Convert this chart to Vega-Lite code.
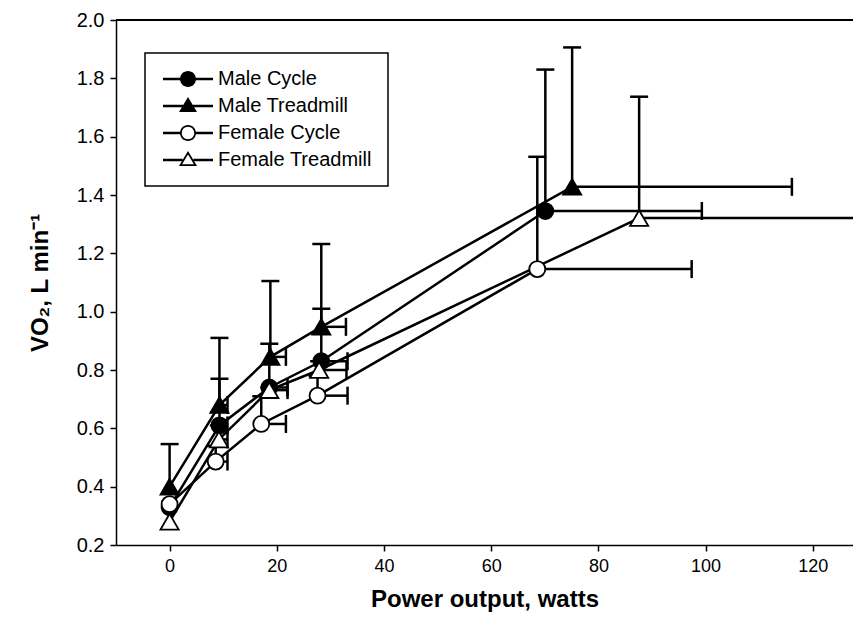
{
  "$schema": "https://vega.github.io/schema/vega-lite/v6.json",
  "width": 737,
  "height": 525,
  "autosize": {"type": "none"},
  "padding": {"left": 116, "top": 20, "right": 0, "bottom": 90},
  "background": "white",
  "config": {
    "font": "Liberation Sans",
    "view": {"stroke": null},
    "legend": {"strokeWidth": 1.5},
    "axis": {
      "grid": false,
      "domainColor": "black",
      "domainWidth": 1.5,
      "tickColor": "black",
      "tickWidth": 1.5,
      "tickSize": 6,
      "labelColor": "black",
      "labelFont": "Liberation Sans",
      "labelFontSize": 18,
      "titleColor": "black",
      "titleFont": "Liberation Sans",
      "titleFontWeight": "bold",
      "titleFontSize": 24
    }
  },
  "data": {
    "values": [
      {"series": "Male Cycle", "power": 0, "vo2": 0.33, "yhi": null, "xhi": null},
      {"series": "Male Cycle", "power": 9.3, "vo2": 0.61, "yhi": 0.77, "xhi": 10.8},
      {"series": "Male Cycle", "power": 18.6, "vo2": 0.74, "yhi": 0.89, "xhi": 22},
      {"series": "Male Cycle", "power": 28.3, "vo2": 0.83, "yhi": 1.01, "xhi": 33.2},
      {"series": "Male Cycle", "power": 70.1, "vo2": 1.345, "yhi": 1.83, "xhi": 99.3},
      {"series": "Male Treadmill", "power": 0, "vo2": 0.40, "yhi": 0.546, "xhi": null},
      {"series": "Male Treadmill", "power": 9.3, "vo2": 0.68, "yhi": 0.91, "xhi": 10.8},
      {"series": "Male Treadmill", "power": 18.8, "vo2": 0.845, "yhi": 1.105, "xhi": 21.7},
      {"series": "Male Treadmill", "power": 28.3, "vo2": 0.948, "yhi": 1.232, "xhi": 32.9},
      {"series": "Male Treadmill", "power": 75.1, "vo2": 1.428, "yhi": 1.906, "xhi": 116.1},
      {"series": "Female Cycle", "power": 0, "vo2": 0.34, "yhi": null, "xhi": null},
      {"series": "Female Cycle", "power": 8.6, "vo2": 0.486, "yhi": 0.54, "xhi": 10.8},
      {"series": "Female Cycle", "power": 17.1, "vo2": 0.615, "yhi": 0.71, "xhi": 21.7},
      {"series": "Female Cycle", "power": 27.6, "vo2": 0.712, "yhi": 0.78, "xhi": 33.2},
      {"series": "Female Cycle", "power": 68.6, "vo2": 1.146, "yhi": 1.531, "xhi": 97.4},
      {"series": "Female Treadmill", "power": 0, "vo2": 0.28, "yhi": null, "xhi": null},
      {"series": "Female Treadmill", "power": 9.2, "vo2": 0.562, "yhi": 0.61, "xhi": 10.8},
      {"series": "Female Treadmill", "power": 18.6, "vo2": 0.731, "yhi": 0.74, "xhi": 22},
      {"series": "Female Treadmill", "power": 27.9, "vo2": 0.80, "yhi": 0.83, "xhi": 33},
      {"series": "Female Treadmill", "power": 87.6, "vo2": 1.321, "yhi": 1.737, "xhi": 135}
    ]
  },
  "encoding": {
    "x": {
      "field": "power", "type": "quantitative",
      "scale": {"domain": [-10, 127.5], "nice": false, "zero": false},
      "axis": {"title": "Power output, watts", "values": [0, 20, 40, 60, 80, 100, 120], "labelPadding": 6, "titlePadding": 12}
    },
    "y": {
      "field": "vo2", "type": "quantitative",
      "scale": {"domain": [0.2, 2.0], "nice": false, "zero": false},
      "axis": {"title": "VO₂, L min⁻¹", "values": [0.2, 0.4, 0.6, 0.8, 1.0, 1.2, 1.4, 1.6, 1.8, 2.0], "format": ".1f", "labelPadding": 6, "labelFontSize": 20, "titlePadding": 24}
    }
  },
  "layer": [
    {
      "mark": {"type": "rule", "color": "black", "strokeWidth": 1.5},
      "encoding": {"x": null, "y": {"datum": 2.0, "type": "quantitative"}}
    },
    {
      "transform": [{"filter": "datum.yhi != null"}],
      "mark": {"type": "rule", "color": "black", "strokeWidth": 2.5},
      "encoding": {"y2": {"field": "yhi"}}
    },
    {
      "transform": [{"filter": "datum.yhi != null"}],
      "mark": {"type": "tick", "orient": "horizontal", "color": "black", "size": 18, "thickness": 2.5, "opacity": 1},
      "encoding": {"y": {"field": "yhi", "type": "quantitative"}}
    },
    {
      "transform": [{"filter": "datum.xhi != null"}],
      "mark": {"type": "rule", "color": "black", "strokeWidth": 2.5, "clip": true},
      "encoding": {"x2": {"field": "xhi"}}
    },
    {
      "transform": [{"filter": "datum.xhi != null && datum.xhi < 127.5"}],
      "mark": {"type": "tick", "orient": "vertical", "color": "black", "size": 18, "thickness": 2.5, "opacity": 1},
      "encoding": {"x": {"field": "xhi", "type": "quantitative"}}
    },
    {
      "mark": {"type": "line", "color": "black", "strokeWidth": 2.5},
      "encoding": {"detail": {"field": "series"}, "order": {"field": "power"}}
    },
    {
      "mark": {"type": "point", "stroke": "black", "strokeWidth": 1.8, "opacity": 1, "filled": false},
      "encoding": {
        "shape": {"condition": {"test": "indexof(datum.series, 'Cycle') >= 0", "value": "circle"}, "value": "triangle-up"},
        "size": {"condition": {"test": "indexof(datum.series, 'Cycle') >= 0", "value": 256}, "value": 330},
        "fill": {"condition": {"test": "indexof(datum.series, 'Male') == 0", "value": "black"}, "value": "white"}
      }
    },
    {
      "transform": [{"filter": "datum.power == 0"}],
      "mark": {"type": "point", "filled": true, "color": "black", "opacity": 0, "strokeWidth": 0},
      "encoding": {
        "shape": {
          "field": "series", "type": "nominal",
          "scale": {
            "domain": ["Male Cycle", "Male Treadmill", "Female Cycle", "Female Treadmill"],
            "range": [
              "M-1,-0.16H1.2V0.16H-1ZM3.05,-0.16H5.25V0.16H3.05ZM3.125,0A1,1 0 1,1 1.125,0A1,1 0 1,1 3.125,0Z",
              "M-1,-0.16H1.5V0.16H-1ZM2.75,-0.16H5.25V0.16H2.75ZM2.125,-1.125L3.25,0.75L1,0.75Z",
              "M-1,-0.16H1.15V0.16H-1ZM3.1,-0.16H5.25V0.16H3.1ZM3.125,0A1,1 0 1,1 1.125,0A1,1 0 1,1 3.125,0ZM2.905,0A0.78,0.78 0 1,0 1.345,0A0.78,0.78 0 1,0 2.905,0Z",
              "M-1,-0.16H1.45V0.16H-1ZM2.8,-0.16H5.25V0.16H2.8ZM2.125,-1.125L3.25,0.75L1,0.75ZM2.125,-0.698L1.388,0.53L2.862,0.53Z"
            ]
          },
          "legend": {
            "title": null,
            "orient": "none",
            "legendX": 29,
            "legendY": 33,
            "padding": 16,
            "strokeColor": "black",
            "fillColor": "white",
            "symbolSize": 256,
            "symbolFillColor": "black",
            "symbolStrokeWidth": 0,
            "symbolOpacity": 1,
            "labelFont": "Liberation Sans",
            "labelFontSize": 20,
            "labelColor": "black",
            "labelOffset": 37,
            "labelLimit": 400,
            "rowPadding": 7
          }
        }
      }
    }
  ]
}
